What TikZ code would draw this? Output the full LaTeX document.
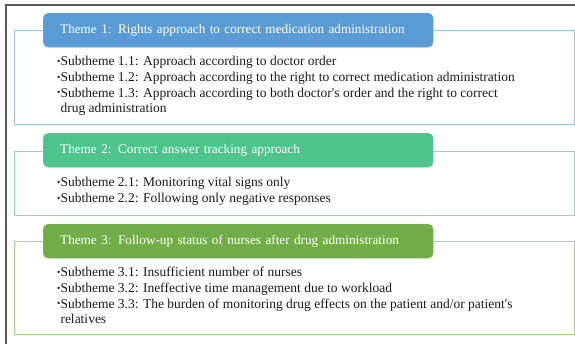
\documentclass[tikz,border=0pt]{standalone}
\usepackage{fontspec}
\usepackage{graphicx}
\setmainfont{Liberation Serif}
\definecolor{frameGray}{HTML}{5A5A5A}
\definecolor{blueHead}{HTML}{5B9BD5}
\definecolor{blueLine}{HTML}{9DC3E6}
\definecolor{greenHead}{HTML}{4EC38C}
\definecolor{greenLine}{HTML}{8FD8B8}
\definecolor{oliveHead}{HTML}{70AD47}
\definecolor{oliveLine}{HTML}{A9D18E}
\definecolor{bodyText}{HTML}{1A1A1A}
\newcommand{\bul}{\raisebox{0.2ex}{\scalebox{0.7}{•}}\hspace{0.8pt}}
\begin{document}
\begin{tikzpicture}[x=1pt,y=-1pt,
  panel/.style={line width=0.9pt},
  header/.style={anchor=north west, rounded corners=5pt, minimum width=390pt,
    minimum height=34pt, text width=356pt, inner xsep=17pt, inner ysep=0pt,
    align=left, text=white, font=\fontsize{13.2}{15}\selectfont},
  items/.style={anchor=base west, inner sep=0pt, text=bodyText,
    font=\fontsize{13.5}{15.8}\selectfont}
]
\useasboundingbox (0,0) rectangle (575,344);
\fill[white] (0,0) rectangle (575,344);

% outer frame, open at the bottom and right
\draw[frameGray, line width=1.2pt] (6,344) -- (6,5) -- (575,5);

% theme panels
\draw[panel, blueLine]  (14,30)  rectangle (574,124);
\draw[panel, greenLine] (14,151) rectangle (574,215);
\draw[panel, oliveLine] (14,241) rectangle (574,334);

% theme headers
\node[header, fill=blueHead, draw=blueHead!85!white] (h1) at (43,13)
  {Theme 1: Rights approach to correct medication administration};
\node[header, fill=greenHead, draw=greenHead!85!white] (h2) at (43,133)
  {Theme 2: Correct answer tracking approach};
\node[header, fill=oliveHead, draw=oliveHead!85!white] (h3) at (43,224)
  {Theme 3: Follow-up status of nurses after drug administration};

% subthemes
\node[items] (s1) at (57,65.5) {\begin{tabular}[t]{@{}l@{}l@{}}
  \bul & Subtheme 1.1: Approach according to doctor order\\
  \bul & Subtheme 1.2: Approach according to the right to correct medication administration\\
  \bul & Subtheme 1.3: Approach according to both doctor\textquotesingle s order and the right to correct\\
       & drug administration
\end{tabular}};
\node[items] (s2) at (57,186.5) {\begin{tabular}[t]{@{}l@{}l@{}}
  \bul & Subtheme 2.1: Monitoring vital signs only\\
  \bul & Subtheme 2.2: Following only negative responses
\end{tabular}};
\node[items] (s3) at (57,276.5) {\begin{tabular}[t]{@{}l@{}l@{}}
  \bul & Subtheme 3.1: Insufficient number of nurses\\
  \bul & Subtheme 3.2: Ineffective time management due to workload\\
  \bul & Subtheme 3.3: The burden of monitoring drug effects on the patient and/or patient\textquotesingle s\\
       & relatives
\end{tabular}};
\end{tikzpicture}
\end{document}
